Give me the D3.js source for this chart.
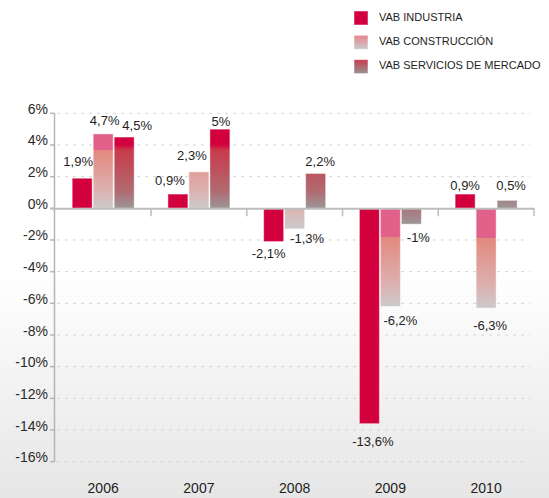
<!DOCTYPE html>
<html>
<head>
<meta charset="utf-8">
<script src="https://cdn.jsdelivr.net/npm/d3@7"></script>
<style>
  html, body { margin: 0; padding: 0; background: #fff; }
  svg { display: block; font-family: "Liberation Sans", Arial, sans-serif; }
</style>
</head>
<body>
<svg id="chart" width="549" height="498"></svg>
<script>
// ---- data ----
const years = ["2006", "2007", "2008", "2009", "2010"];
const seriesNames = ["VAB INDUSTRIA", "VAB CONSTRUCCIÓN", "VAB SERVICIOS DE MERCADO"];
const industria = [1.9, 0.9, -2.1, -13.6, 0.9];
const construccion = [4.7, 2.3, -1.3, -6.2, -6.3];
const servicios = [4.5, 5, 2.2, -1, 0.5];
const yTicks = [6, 4, 2, 0, -2, -4, -6, -8, -10, -12, -14, -16];

// ---- layout (label nudges, px, relative to bar end) ----
const labelNudge = [
  [[-4, -12.5], [-8, -9], [-5, 16], [3.5, 22], [0, -4]],
  [[1.5, -9], [-7, -12], [12.5, 14.5], [10, 18], [4, 22]],
  [[13, -7], [1, -3.5], [4.5, -7], [7, 17.5], [4, -10]]
];

const svg = d3.select("#chart");
const W = 549, H = 498;
const plot = { left: 55.3, right: 534, top: 113.3, bottom: 461.7 };

const defs = svg.append("defs");
const bg = defs.append("linearGradient").attr("id", "bg")
  .attr("x1", 0).attr("y1", 0).attr("x2", 0).attr("y2", 1);
bg.append("stop").attr("offset", 0).attr("stop-color", "#ffffff");
bg.append("stop").attr("offset", 0.55).attr("stop-color", "#ffffff");
bg.append("stop").attr("offset", 1).attr("stop-color", "#e6e6e6");
svg.append("rect").attr("width", W).attr("height", H).attr("fill", "url(#bg)");

const x0 = d3.scaleBand().domain(years).range([plot.left, plot.right]);
const y = d3.scaleLinear().domain([-16, 6]).range([plot.bottom, plot.top]);
const barW = 20, barStep = 21;
const groupW = barStep * 2 + barW;

// gridlines
svg.append("g").selectAll("line").data(yTicks.filter(t => t !== 0)).join("line")
  .attr("x1", 57).attr("x2", 530)
  .attr("y1", d => y(d)).attr("y2", d => y(d))
  .attr("stroke", "#d4d4d4").attr("stroke-width", 1)
  .attr("stroke-dasharray", "3,5");

// y axis
const yAxisX = 54.5;
svg.append("line").attr("x1", yAxisX).attr("x2", yAxisX)
  .attr("y1", y(6)).attr("y2", y(-16))
  .attr("stroke", "#b5b5b5").attr("stroke-width", 1.5);
svg.append("g").selectAll("line").data(yTicks).join("line")
  .attr("x1", 50).attr("x2", yAxisX)
  .attr("y1", d => y(d)).attr("y2", d => y(d))
  .attr("stroke", "#b5b5b5").attr("stroke-width", 1.5);
svg.append("g").selectAll("text").data(yTicks).join("text")
  .attr("x", 48).attr("y", d => y(d) + 0.5)
  .attr("text-anchor", "end")
  .attr("font-size", 14).attr("fill", "#2a2a2a")
  .text(d => d + "%");

// series definitions
const series = [
  { name: seriesNames[0], values: industria, kind: "ind" },
  { name: seriesNames[1], values: construccion, kind: "con" },
  { name: seriesNames[2], values: servicios, kind: "ser" }
];

const palette = {
  con: { base: "#cccaca", soft: "#dcb2b2", mid: "#e3897d", top: "#e1618a" },
  ser: { base: "#9b9797", soft: "#b06a70", mid: "#c93a4c", top: "#d2003c" }
};

const fmt = v => String(v).replace(".", ",") + "%";

const bars = [];
series.forEach((s, si) => {
  s.values.forEach((v, yi) => {
    const xb = x0(years[yi]) + (x0.bandwidth() - groupW) / 2 + si * barStep;
    const yTop = y(Math.max(0, v));
    const yBot = y(Math.min(0, v));
    bars.push({ s, si, yi, v, xb, yTop, yBot });
  });
});

bars.forEach((b, i) => {
  let fill = "#d2003c";
  if (b.s.kind !== "ind") {
    const p = palette[b.s.kind];
    const gradLen = b.v >= 0 ? 58 : 70;
    const id = "g" + i;
    const g = defs.append("linearGradient").attr("id", id)
      .attr("gradientUnits", "userSpaceOnUse")
      .attr("x1", 0).attr("x2", 0)
      .attr("y1", b.yBot).attr("y2", b.yBot - gradLen - 6);
    const k = gradLen / (gradLen + 6);
    g.append("stop").attr("offset", 0).attr("stop-color", p.base);
    g.append("stop").attr("offset", k * 0.3).attr("stop-color", p.soft);
    g.append("stop").attr("offset", k).attr("stop-color", p.mid);
    if (b.s.kind === "con") {
      g.append("stop").attr("offset", k).attr("stop-color", p.top);
    }
    g.append("stop").attr("offset", 1).attr("stop-color", p.top);
    fill = "url(#" + id + ")";
  }
  svg.append("rect")
    .attr("x", b.xb).attr("y", b.yTop)
    .attr("width", barW).attr("height", Math.max(0.5, b.yBot - b.yTop))
    .attr("fill", fill)
    .attr("stroke", "rgba(255,255,255,0.45)").attr("stroke-width", 1);
});

// zero line
svg.append("line").attr("x1", 51).attr("x2", plot.right)
  .attr("y1", y(0) + 0.5).attr("y2", y(0) + 0.5)
  .attr("stroke", "#bdbdbd").attr("stroke-width", 2);
// category ticks at band boundaries
svg.append("g").selectAll("line").data(years).join("line")
  .attr("x1", d => x0(d) + x0.bandwidth())
  .attr("x2", d => x0(d) + x0.bandwidth())
  .attr("y1", y(0)).attr("y2", y(0) + 8)
  .attr("stroke", "#bdbdbd").attr("stroke-width", 1.5);

// value labels
svg.append("g").selectAll("text").data(bars).join("text")
  .attr("x", d => d.xb + barW / 2 + labelNudge[d.si][d.yi][0])
  .attr("y", d => (d.v >= 0 ? d.yTop : d.yBot) + labelNudge[d.si][d.yi][1])
  .attr("text-anchor", "middle")
  .attr("font-size", 13).attr("fill", "#1e1e1e")
  .text(d => fmt(d.v));

// category labels
svg.append("g").selectAll("text").data(years).join("text")
  .attr("x", d => x0(d) + x0.bandwidth() / 2)
  .attr("y", 493)
  .attr("text-anchor", "middle")
  .attr("font-size", 14).attr("fill", "#1e1e1e")
  .text(d => d);

// legend
const lg = svg.append("g");
const lgi = defs.append("linearGradient").attr("id", "lg1")
  .attr("x1", 0).attr("y1", 0).attr("x2", 0).attr("y2", 1);
lgi.append("stop").attr("offset", 0).attr("stop-color", "#e9858f");
lgi.append("stop").attr("offset", 1).attr("stop-color", "#cbcaca");
const lgs = defs.append("linearGradient").attr("id", "lg2")
  .attr("x1", 0).attr("y1", 0).attr("x2", 0).attr("y2", 1);
lgs.append("stop").attr("offset", 0).attr("stop-color", "#cc3a4c");
lgs.append("stop").attr("offset", 1).attr("stop-color", "#989494");
const legendFills = ["#d2003c", "url(#lg1)", "url(#lg2)"];

lg.selectAll("rect").data(seriesNames).join("rect")
  .attr("x", 354).attr("y", (d, i) => 11 + i * 24.3)
  .attr("width", 14).attr("height", 14)
  .attr("fill", (d, i) => legendFills[i])
  .attr("stroke", "rgba(255,255,255,0.5)").attr("stroke-width", 1);
lg.selectAll("text").data(seriesNames).join("text")
  .attr("x", 379).attr("y", (d, i) => 20.5 + i * 24.3)
  .attr("font-size", 11).attr("fill", "#1e1e1e")
  .text(d => d);
</script>
</body>
</html>
